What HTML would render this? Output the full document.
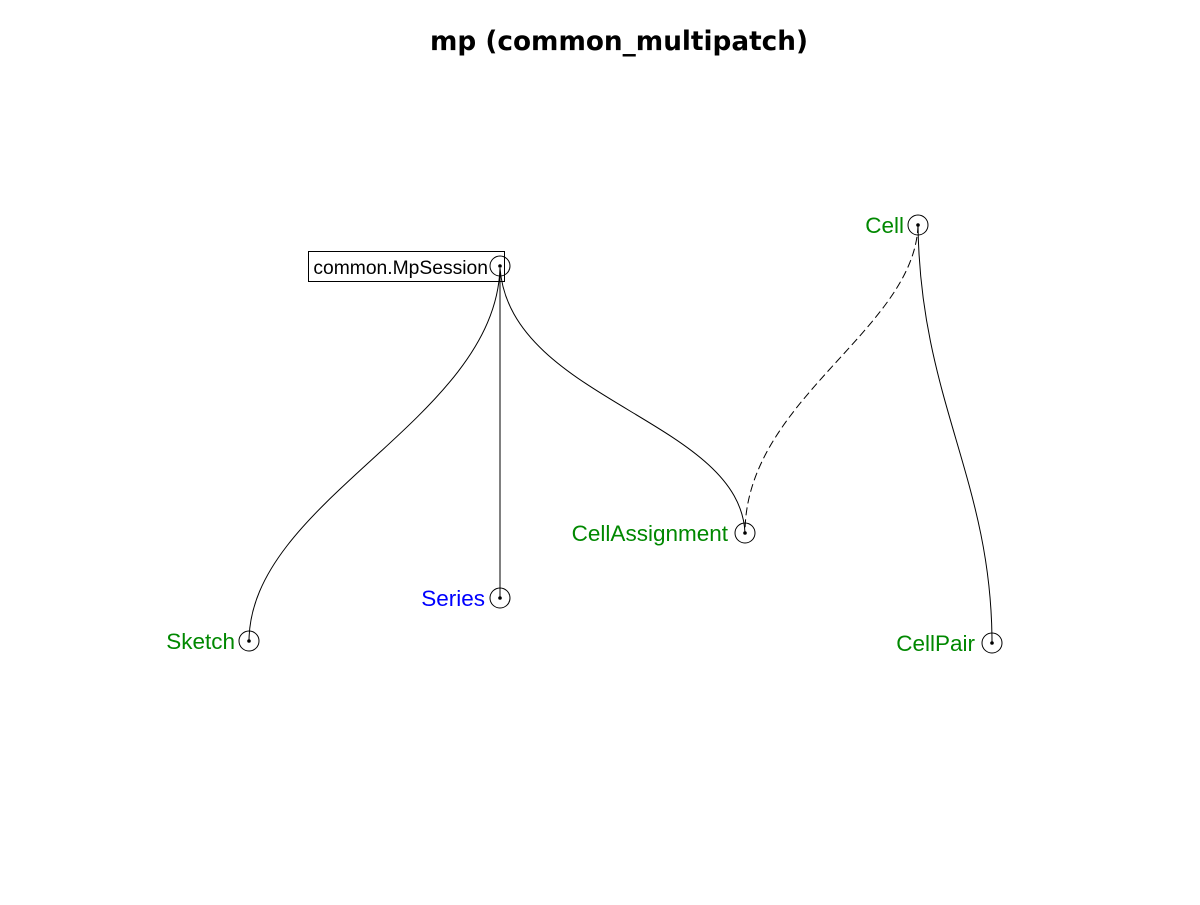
<!DOCTYPE html>
<html><head><style>body{margin:0;background:#fff}</style></head><body>
<svg width="1200" height="900" xmlns="http://www.w3.org/2000/svg" font-family="Liberation Sans, sans-serif">
<rect width="1200" height="900" fill="#fff"/>
<text x="619" y="50" text-anchor="middle" font-size="26.3" font-weight="bold" font-family="DejaVu Sans, sans-serif">mp (common_multipatch)</text>
<g fill="none" stroke="#000" stroke-width="1">
<rect x="308.5" y="251.5" width="196" height="30"/>
<path d="M500,268 C495,420 250,500 249,641"/>
<path d="M500,268 L500,598"/>
<path d="M500,268 C510,400 740,420 745,533"/>
<path d="M918,225 C915,330 745,400 745,533" stroke-dasharray="8,4"/>
<path d="M918,225 C920,400 992,480 992,643"/>
<circle cx="500" cy="266" r="10"/>
<circle cx="918" cy="225" r="10"/>
<circle cx="745" cy="533" r="10"/>
<circle cx="500" cy="598" r="10"/>
<circle cx="249" cy="641" r="10"/>
<circle cx="992" cy="643" r="10"/>
</g>
<g fill="#000">
<circle cx="500" cy="266" r="1.8"/><circle cx="918" cy="225" r="1.8"/><circle cx="745" cy="533" r="1.8"/>
<circle cx="500" cy="598" r="1.8"/><circle cx="249" cy="641" r="1.8"/><circle cx="992" cy="643" r="1.8"/>
</g>
<g font-size="22.5" text-anchor="end">
<text x="488" y="274" font-size="19.3" fill="#000">common.MpSession</text>
<text x="904" y="233" fill="#008800">Cell</text>
<text x="728" y="541" fill="#008800">CellAssignment</text>
<text x="485" y="606" fill="#0000ff">Series</text>
<text x="235" y="649" fill="#008800">Sketch</text>
<text x="975" y="651" fill="#008800">CellPair</text>
</g>
</svg>
</body></html>
